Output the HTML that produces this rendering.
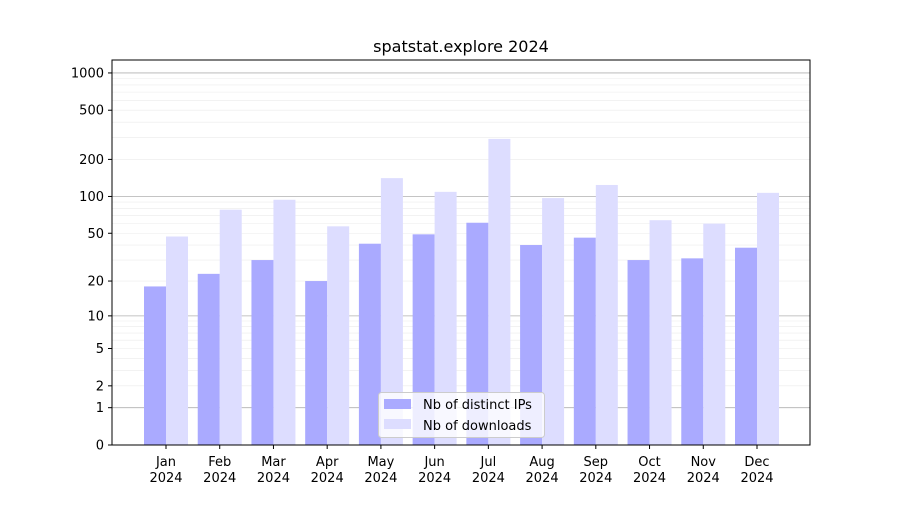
<!DOCTYPE html>
<html><head><meta charset="utf-8"><style>
body{margin:0;background:#fff;}
svg text{font-family:"DejaVu Sans","Liberation Sans",sans-serif;fill:#000;}
</style></head><body>
<svg width="900" height="500" xmlns="http://www.w3.org/2000/svg">
<rect width="900" height="500" fill="#fff"/>
<text x="461" y="52" font-size="16" text-anchor="middle">spatstat.explore 2024</text>
<g id="grid"></g>
<g id="bars"></g>
<rect x="112" y="60" width="698" height="385" fill="none" stroke="#000" stroke-width="1"/>
<g id="yticks"></g>
<g id="xticks"></g>
<g>
<rect x="378.5" y="392.5" width="166" height="45" rx="3" fill="#fff" fill-opacity="0.8" stroke="#ccc"/>
<rect x="384" y="399" width="27" height="10" fill="#aaaaff"/>
<text x="423" y="409" font-size="13">Nb of distinct IPs</text>
<rect x="384" y="419" width="27" height="10" fill="#ddddff"/>
<text x="423" y="430" font-size="13">Nb of downloads</text>
</g>
</svg>
<script>
const months = ["Jan","Feb","Mar","Apr","May","Jun","Jul","Aug","Sep","Oct","Nov","Dec"];
const ips = [18,23,30,20,41,49,61,40,46,30,31,38];
const downloads = [47,78,94,57,141,109,293,97,124,64,60,107];
const yTicks = [0,1,2,5,10,20,50,100,200,500,1000];
const NS = "http://www.w3.org/2000/svg";
function y(v){return 445 - 124*Math.log10(v+1);}
function xc(i){return 166 + i*(757-166)/11;}
function mk(tag, attrs, parent){const e=document.createElementNS(NS,tag);for(const k in attrs)e.setAttribute(k,attrs[k]);document.getElementById(parent).appendChild(e);return e;}
// grid
for (let d=1; d<=1000; d*=10){
  for (let m=1; m<10; m++){
    const v=d*m; if(v>1000) break;
    const major = (m===1);
    const l = mk("line",{x1:112,x2:810,y1:y(v),y2:y(v),stroke:major?"#b0b0b0":"#ebebeb","stroke-width":major?0.8:0.6},"grid");
    
    
  }
}
// bars
months.forEach((m,i)=>{
  const b1 = mk("rect",{x:xc(i)-22,y:y(ips[i]),width:22,height:445-y(ips[i]),fill:"#aaaaff"},"bars");
  
  
  const b2 = mk("rect",{x:xc(i),y:y(downloads[i]),width:22,height:445-y(downloads[i]),fill:"#ddddff"},"bars");
  
  
  const t = mk("line",{x1:xc(i),x2:xc(i),y1:445,y2:449,stroke:"#000"},"xticks");
  
  
  const l1 = mk("text",{x:xc(i),y:466,"font-size":13,"text-anchor":"middle"},"xticks");
  l1.textContent=m;
  
  
  const l2 = mk("text",{x:xc(i),y:482,"font-size":13,"text-anchor":"middle"},"xticks");
  l2.textContent="2024";
  
  
});
yTicks.forEach(v=>{
  const t = mk("line",{x1:108,x2:112,y1:y(v),y2:y(v),stroke:"#000"},"yticks");
  
  
  const l = mk("text",{x:104,y:y(v)+4.5,"font-size":13,"text-anchor":"end"},"yticks");
  l.textContent=v;
  
  
});
</script>
</body></html>
